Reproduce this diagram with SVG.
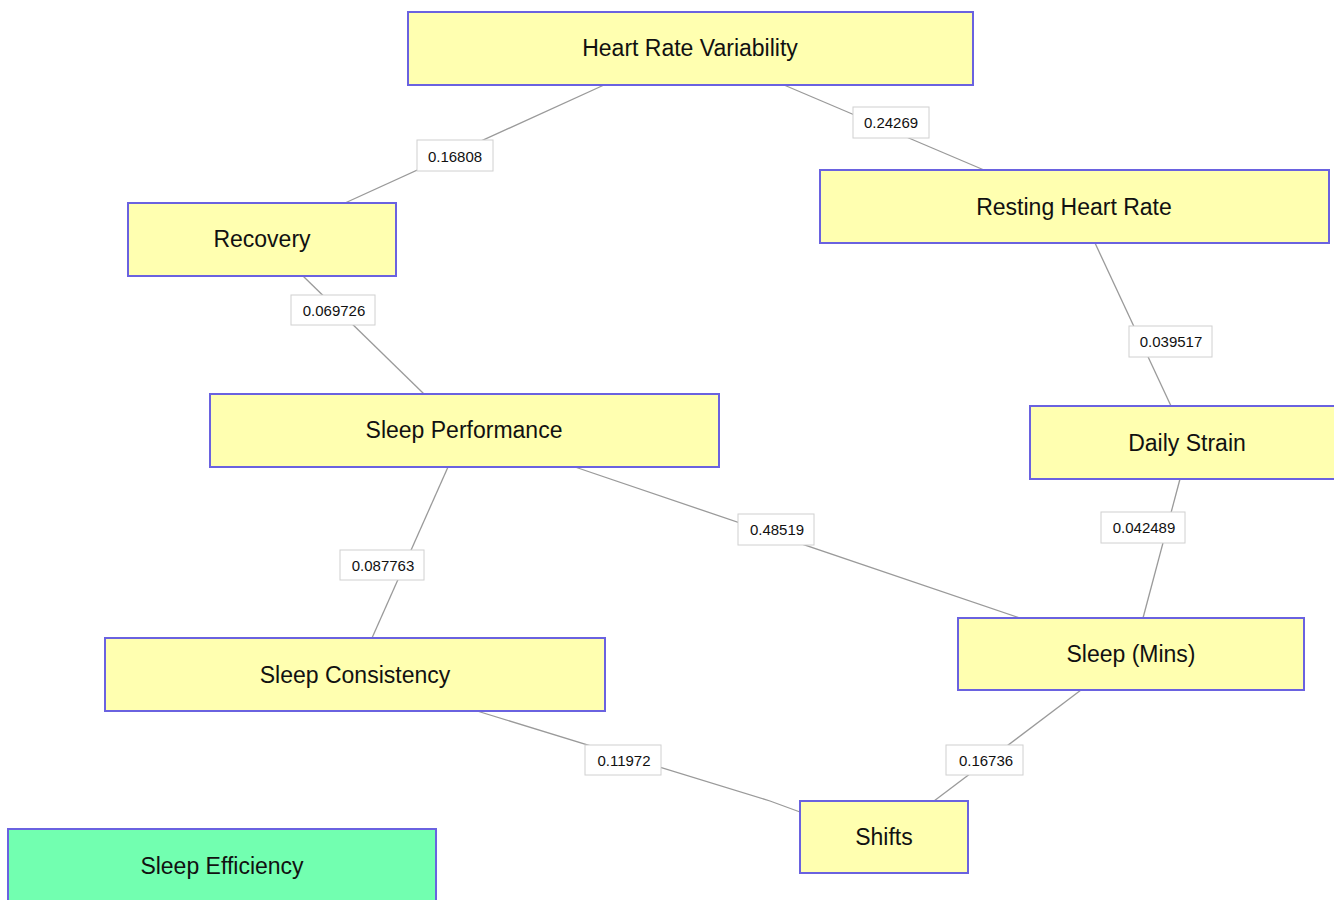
<svg xmlns="http://www.w3.org/2000/svg" width="1334" height="900" viewBox="0 0 1334 900">
<style>
.n{fill:#ffffb0;stroke:#6a62e0;stroke-width:2}
.g{fill:#72ffb0}
.t{font-family:"Liberation Sans",Arial,sans-serif;font-size:23px;fill:#111;text-anchor:middle;dominant-baseline:central}
.e{fill:none;stroke:#9a9a9a;stroke-width:1.3}
.lb{fill:#fff;stroke:#d0d0d0;stroke-width:1}
.lt{font-family:"Liberation Sans",Arial,sans-serif;font-size:15px;fill:#111;text-anchor:middle;dominant-baseline:central}
</style>
<rect width="1334" height="900" fill="#fff"/>
<g id="connectors">
<polyline class="e" points="604,85 345,203"/>
<polyline class="e" points="784,85 984,170"/>
<polyline class="e" points="303,276 424,394"/>
<polyline class="e" points="1095,243 1171,406"/>
<polyline class="e" points="1180,479 1143,618"/>
<polyline class="e" points="575,467 1020,618"/>
<polyline class="e" points="448,467 372,638"/>
<polyline class="e" points="477,711 770,801 800,812"/>
<polyline class="e" points="1081,690 934,801"/>
<g id="labels">
<rect class="lb" x="417" y="140" width="76" height="31"/><text class="lt" x="455" y="156">0.16808</text>
<rect class="lb" x="853" y="107" width="76" height="31"/><text class="lt" x="891" y="122">0.24269</text>
<rect class="lb" x="291" y="295" width="84" height="30"/><text class="lt" x="334" y="310">0.069726</text>
<rect class="lb" x="1129" y="326" width="83" height="31"/><text class="lt" x="1171" y="341">0.039517</text>
<rect class="lb" x="1101" y="512" width="84" height="31"/><text class="lt" x="1144" y="527">0.042489</text>
<rect class="lb" x="738" y="514" width="76" height="31"/><text class="lt" x="777" y="529">0.48519</text>
<rect class="lb" x="340" y="550" width="84" height="30"/><text class="lt" x="383" y="565">0.087763</text>
<rect class="lb" x="585" y="745" width="76" height="30"/><text class="lt" x="624" y="760">0.11972</text>
<rect class="lb" x="946" y="745" width="77" height="30"/><text class="lt" x="986" y="760">0.16736</text>
</g>
</g>
<g id="hrv"><rect class="n" x="408" y="12" width="565" height="73"/><text class="t" x="690" y="48">Heart Rate Variability</text></g>
<g id="rhr"><rect class="n" x="820" y="170" width="509" height="73"/><text class="t" x="1074" y="207">Resting Heart Rate</text></g>
<g id="recovery"><rect class="n" x="128" y="203" width="268" height="73"/><text class="t" x="262" y="239">Recovery</text></g>
<g id="sleep-performance"><rect class="n" x="210" y="394" width="509" height="73"/><text class="t" x="464" y="430">Sleep Performance</text></g>
<g id="daily-strain"><rect class="n" x="1030" y="406" width="316" height="73"/><text class="t" x="1187" y="443">Daily Strain</text></g>
<g id="sleep-mins"><rect class="n" x="958" y="618" width="346" height="72"/><text class="t" x="1131" y="654">Sleep (Mins)</text></g>
<g id="sleep-consistency"><rect class="n" x="105" y="638" width="500" height="73"/><text class="t" x="355" y="675">Sleep Consistency</text></g>
<g id="shifts"><rect class="n" x="800" y="801" width="168" height="72"/><text class="t" x="884" y="837">Shifts</text></g>
<g id="sleep-efficiency"><rect class="n g" x="8" y="829" width="428" height="80"/><text class="t" x="222" y="866">Sleep Efficiency</text></g>
</svg>
